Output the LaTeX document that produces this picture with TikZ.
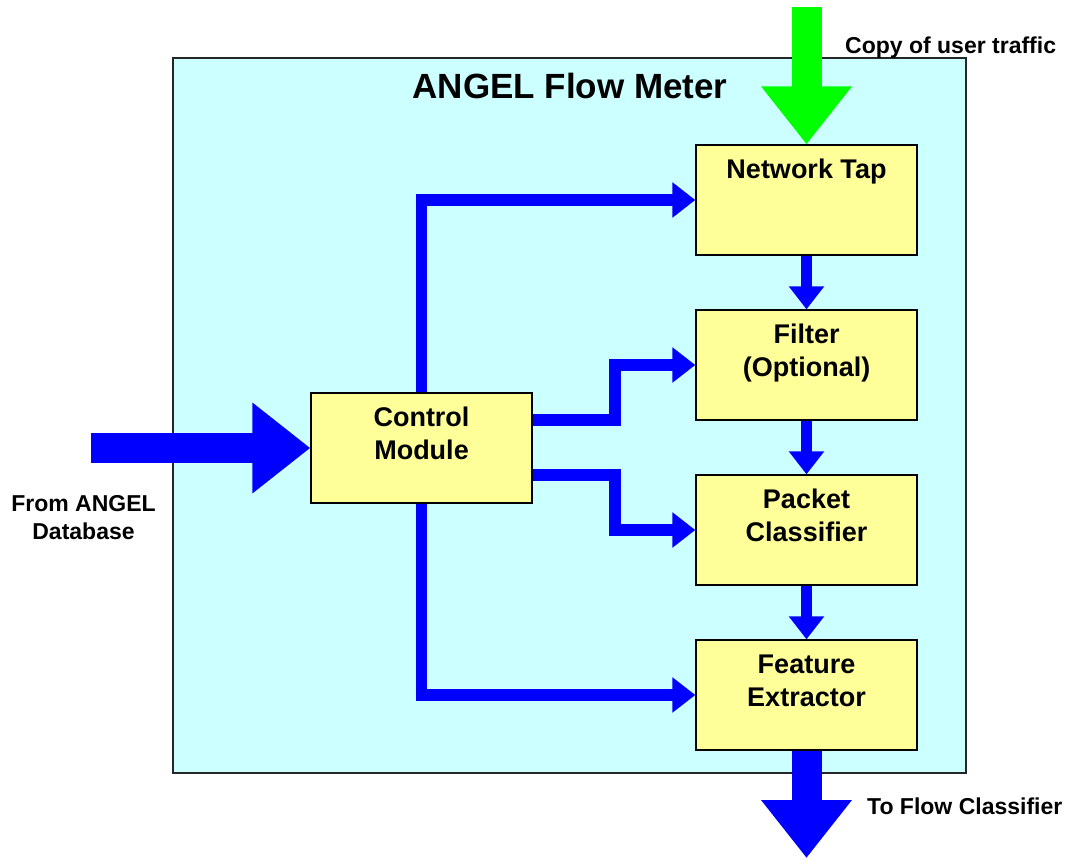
\documentclass[tikz,border=0pt]{standalone}
\usepackage{fontspec}
\setmainfont{Liberation Sans}
\usetikzlibrary{arrows.meta,calc}
\definecolor{bgcyan}{HTML}{CCFFFF}
\definecolor{boxyellow}{HTML}{FFFF99}
\definecolor{arrowblue}{HTML}{0000FF}
\definecolor{arrowgreen}{HTML}{00FF00}
\newcommand{\twolines}[2]{\begin{tabular}[t]{@{}c@{}}#1\\#2\end{tabular}}
\pgfdeclarelayer{bg}
\pgfsetlayers{bg,main}
\begin{document}
\begin{tikzpicture}[x=1pt,y=-1pt,
 meterbox/.style={draw=black!85, line width=1.5pt, fill=bgcyan, minimum width=793pt, minimum height=715pt, inner sep=0pt},
 stagebox/.style={draw=black, line width=1.3pt, fill=boxyellow, minimum width=221pt, minimum height=110pt, inner sep=0pt},
 boxtext/.style={font=\bfseries\fontsize{27}{33}\selectfont, anchor=base, inner sep=0pt},
 outtext/.style={font=\bfseries\fontsize{23}{28}\selectfont, inner sep=0pt},
 titletext/.style={font=\bfseries\fontsize{35}{42}\selectfont, anchor=base, inner sep=0pt},
 link/.style={draw=arrowblue, line width=11.5pt, -{Triangle[length=23pt,width=34pt]}},
 bigblue/.style={draw=arrowblue, line width=30pt, -{Triangle[length=58pt,width=87pt]}},
 biggreen/.style={draw=arrowgreen, line width=30pt, -{Triangle[length=58pt,width=87pt]}}
]
\useasboundingbox (0,0) rectangle (1070,861);

% stage boxes
\node[stagebox] (tap)  at (806.5,200) {};
\node[stagebox] (filt) at (806.5,365) {};
\node[stagebox] (pc)   at (806.5,530) {};
\node[stagebox] (fe)   at (806.5,695) {};
\node[stagebox] (ctrl) at (421.5,448) {};

% box texts
\node[boxtext] (taptxt)  at ([yshift=-34pt]tap.north)  {Network Tap};
\node[boxtext] (filttxt) at ([yshift=-34pt]filt.north) {\twolines{Filter}{(Optional)}};
\node[boxtext] (pctxt)   at ([yshift=-34pt]pc.north)   {\twolines{Packet}{Classifier}};
\node[boxtext] (fetxt)   at ([yshift=-34pt]fe.north)   {\twolines{Feature}{Extractor}};
\node[boxtext] (ctrltxt) at ([yshift=-34pt]ctrl.north) {\twolines{Control}{Module}};

% outer labels
\node[titletext] (title) at (570,99) {ANGEL Flow Meter};
\node[outtext, anchor=base west] (trafficlbl) at (845,54) {Copy of user traffic};
\node[outtext, anchor=base] (dblbl) at (83.5,511) {\twolines{From ANGEL}{Database}};
\node[outtext, anchor=base west] (classlbl) at (867,814) {To Flow Classifier};

\coordinate (dbsrc) at (91,448);
\coordinate (trafficsrc) at (806.5,7);
\coordinate (classdst) at (806.5,858);

\begin{pgfonlayer}{bg}
\node[meterbox] (meter) at (569.5,415.5) {};
% big arrows
\draw[bigblue] (dbsrc) -- (ctrl.west);
\draw[biggreen] (trafficsrc) -- (tap.north);
\draw[bigblue] (fe.south) -- (classdst);
% control links
\draw[link] (ctrl.north) |- (tap.west);
\draw[link] (ctrl.south) |- (fe.west);
\draw[link] ([yshift=28pt]ctrl.east) -- ++(82.5,0) |- (filt.west);
\draw[link] ([yshift=-27pt]ctrl.east) -- ++(82.5,0) |- (pc.west);
% chain links
\draw[link] (tap.south) -- (filt.north);
\draw[link] (filt.south) -- (pc.north);
\draw[link] (pc.south) -- (fe.north);
\end{pgfonlayer}
\end{tikzpicture}
\end{document}
